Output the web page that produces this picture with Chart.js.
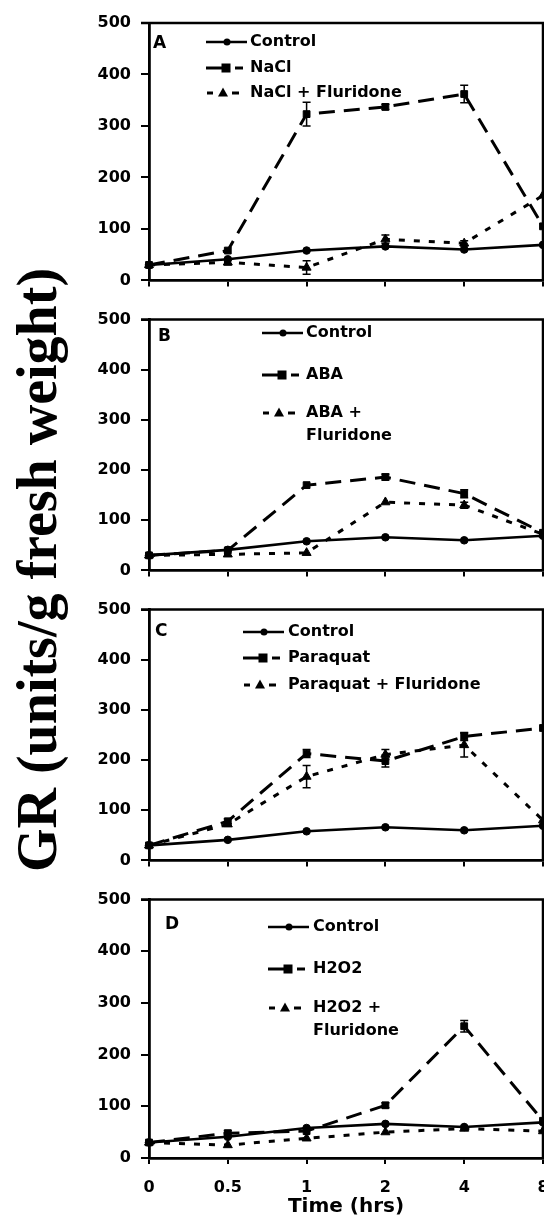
<!DOCTYPE html>
<html>
<head>
<meta charset="utf-8">
<script src="https://cdn.jsdelivr.net/npm/chart.js@4.4.1/dist/chart.umd.min.js"></script>
<style>
html,body{margin:0;padding:0;background:#fff;width:544px;height:1219px;overflow:hidden;position:relative;}
canvas{position:absolute;left:0;}
#ytitle{position:absolute;left:37px;top:570px;width:900px;transform:translate(-50%,-50%) rotate(-90deg);text-align:center;font:bold 56px/56px "Liberation Serif","Times New Roman",serif;white-space:nowrap;color:#000;}
</style>
</head>
<body>
<div id="ytitle">GR (units/g fresh weight)</div>
<canvas id="cA" width="600" height="300" style="top:0px"></canvas>
<canvas id="cB" width="600" height="290" style="top:300px"></canvas>
<canvas id="cC" width="600" height="290" style="top:590px"></canvas>
<canvas id="cD" width="600" height="339" style="top:880px"></canvas>
<script>
// ---- data ----
const timeLabels = ['0', '0.5', '1', '2', '4', '8'];
const yTickStep = 100;
const yMax = 500;

const control = [30, 41, 58, 66, 60, 69];

const nacl = [30, 58, 323, 337, 362, 105];
const naclErr = [0, 0, 23, 5, 17, 0];
const naclFlu = [30, 35, 25, 80, 72, 165];
const naclFluErr = [0, 5, 13, 8, 5, 0];

const aba = [30, 40, 170, 186, 153, 75];
const abaErr = [0, 0, 0, 6, 8, 0];
const abaFlu = [30, 32, 35, 136, 130, 72];
const abaFluErr = [0, 0, 0, 0, 6, 0];

const paraquat = [30, 78, 213, 198, 247, 264];
const paraquatErr = [0, 5, 8, 12, 8, 0];
const paraquatFlu = [30, 72, 167, 211, 230, 80];
const paraquatFluErr = [0, 0, 22, 10, 24, 0];

const h2o2 = [30, 48, 52, 102, 255, 72];
const h2o2Err = [0, 5, 0, 5, 11, 0];
const h2o2Flu = [30, 25, 38, 50, 57, 52];
const h2o2FluErr = [0, 0, 0, 0, 0, 0];

// ---- styles ----
const STY = {
  control: {borderDash: [], pointStyle: 'circle', pointRadius: 3.8, borderWidth: 2.6},
  treat:   {borderDash: [16, 9], pointStyle: 'rect', pointRadius: 4.8, borderWidth: 3},
  flu:     {borderDash: [6, 9], pointStyle: 'triangle', pointRadius: 5.2, borderWidth: 3}
};

function mkDs(label, data, style, err) {
  const s = STY[style];
  return {
    label, data, err,
    borderColor: '#000', backgroundColor: '#000',
    pointBackgroundColor: '#000', pointBorderColor: '#000', pointBorderWidth: 1,
    borderWidth: s.borderWidth, borderDash: s.borderDash,
    pointStyle: s.pointStyle, pointRadius: s.pointRadius,
    fill: false, tension: 0, clip: false
  };
}

const errorBars = {
  id: 'errorBars',
  afterDatasetsDraw(chart) {
    const ctx = chart.ctx, ys = chart.scales.y;
    chart.data.datasets.forEach((ds, i) => {
      if (!ds.err) return;
      const meta = chart.getDatasetMeta(i);
      meta.data.forEach((pt, j) => {
        const e = ds.err[j];
        if (!e) return;
        const v = ds.data[j];
        const yt = ys.getPixelForValue(v + e), yb = ys.getPixelForValue(v - e);
        ctx.save();
        ctx.strokeStyle = '#000'; ctx.lineWidth = 1.5; ctx.setLineDash([]);
        ctx.beginPath();
        ctx.moveTo(pt.x, yt); ctx.lineTo(pt.x, yb);
        ctx.moveTo(pt.x - 4, yt); ctx.lineTo(pt.x + 4, yt);
        ctx.moveTo(pt.x - 4, yb); ctx.lineTo(pt.x + 4, yb);
        ctx.stroke();
        ctx.restore();
      });
    });
  }
};

const frame = {
  id: 'frame',
  afterDraw(chart) {
    const {ctx, chartArea: a} = chart;
    ctx.save();
    ctx.strokeStyle = '#000'; ctx.lineWidth = 2.5; ctx.setLineDash([]);
    ctx.beginPath();
    ctx.moveTo(a.left - 8, a.top); ctx.lineTo(a.right, a.top); ctx.lineTo(a.right, a.bottom);
    ctx.stroke();
    ctx.restore();
  }
};

function drawMarker(ctx, type, x, y) {
  ctx.setLineDash([]);
  ctx.beginPath();
  if (type === 'control') { ctx.arc(x, y, 3.5, 0, Math.PI * 2); ctx.fill(); }
  else if (type === 'treat') { ctx.fillRect(x - 4.5, y - 4.5, 9, 9); }
  else { ctx.moveTo(x, y - 5.5); ctx.lineTo(x - 5, y + 3.5); ctx.lineTo(x + 5, y + 3.5); ctx.closePath(); ctx.fill(); }
}
function seg(ctx, x1, x2, y, w) {
  ctx.lineWidth = w; ctx.beginPath(); ctx.moveTo(x1, y); ctx.lineTo(x2, y); ctx.stroke();
}

const panelLegend = {
  id: 'panelLegend',
  afterDraw(chart, args, o) {
    const ctx = chart.ctx;
    ctx.save();
    ctx.fillStyle = '#000'; ctx.strokeStyle = '#000'; ctx.setLineDash([]);
    ctx.textBaseline = 'middle'; ctx.textAlign = 'left';
    ctx.font = 'bold 17px "DejaVu Sans"';
    ctx.fillText(o.letter, o.letterX, o.letterY - o.top);
    ctx.font = 'bold 16px "DejaVu Sans"';
    o.items.forEach(it => {
      const y = it.y - o.top, x0 = o.x0;
      if (it.type === 'control') {
        seg(ctx, x0, x0 + 41, y, 2.5);
        drawMarker(ctx, 'control', x0 + 21, y);
      } else if (it.type === 'treat') {
        seg(ctx, x0, x0 + 16, y, 3);
        drawMarker(ctx, 'treat', x0 + 20, y);
        seg(ctx, x0 + 29, x0 + 37, y, 3);
      } else {
        seg(ctx, x0 + 1, x0 + 7, y, 3);
        drawMarker(ctx, 'flu', x0 + 17, y);
        seg(ctx, x0 + 26, x0 + 33, y, 3);
      }
      it.text.forEach((t, k) => ctx.fillText(t, o.textX, y + k * 23));
    });
    ctx.restore();
  }
};

const panels = [
  {id: 'cA', top: 0, padTop: 23, xH: 10, showX: false,
   series: [['Control', control, 'control', null], ['NaCl', nacl, 'treat', naclErr], ['NaCl + Fluridone', naclFlu, 'flu', naclFluErr]],
   legend: {letter: 'A', letterX: 153, letterY: 44, x0: 206, textX: 250,
     items: [{type: 'control', y: 42, text: ['Control']}, {type: 'treat', y: 68, text: ['NaCl']}, {type: 'flu', y: 93, text: ['NaCl + Fluridone']}]}},
  {id: 'cB', top: 300, padTop: 12, xH: 13, showX: false,
   series: [['Control', control, 'control', null], ['ABA', aba, 'treat', abaErr], ['ABA + Fluridone', abaFlu, 'flu', abaFluErr]],
   legend: {letter: 'B', letterX: 158, letterY: 337, x0: 262, textX: 306,
     items: [{type: 'control', y: 333, text: ['Control']}, {type: 'treat', y: 375, text: ['ABA']}, {type: 'flu', y: 413, text: ['ABA +', 'Fluridone']}]}},
  {id: 'cC', top: 590, padTop: 15, xH: 10, showX: false,
   series: [['Control', control, 'control', null], ['Paraquat', paraquat, 'treat', paraquatErr], ['Paraquat + Fluridone', paraquatFlu, 'flu', paraquatFluErr]],
   legend: {letter: 'C', letterX: 155, letterY: 632, x0: 243, textX: 288,
     items: [{type: 'control', y: 632, text: ['Control']}, {type: 'treat', y: 658, text: ['Paraquat']}, {type: 'flu', y: 685, text: ['Paraquat + Fluridone']}]}},
  {id: 'cD', top: 880, padTop: 17, xH: 61, showX: true,
   series: [['Control', control, 'control', null], ['H2O2', h2o2, 'treat', h2o2Err], ['H2O2 + Fluridone', h2o2Flu, 'flu', h2o2FluErr]],
   legend: {letter: 'D', letterX: 165, letterY: 925, x0: 268, textX: 313,
     items: [{type: 'control', y: 927, text: ['Control']}, {type: 'treat', y: 969, text: ['H2O2']}, {type: 'flu', y: 1008, text: ['H2O2 +', 'Fluridone']}]}}
];

Chart.defaults.font.family = '"DejaVu Sans"';
Chart.defaults.color = '#000';

panels.forEach(p => {
  const datasets = p.series.map(s => mkDs(s[0], s[1], s[2], s[3]));
  new Chart(document.getElementById(p.id), {
    type: 'line',
    data: {labels: timeLabels, datasets},
    options: {
      responsive: false, animation: false, events: [],
      layout: {padding: {left: 0, right: 57, top: p.padTop, bottom: 0}},
      plugins: {
        legend: {display: false}, tooltip: {enabled: false},
        panelLegend: Object.assign({top: p.top}, p.legend)
      },
      scales: {
        x: {
          type: 'category', offset: false,
          grid: {drawOnChartArea: false, drawTicks: true, tickLength: 6, color: '#000', lineWidth: 2},
          border: {display: true, color: '#000', width: 2.8},
          ticks: {display: p.showX, color: '#000', padding: 14, maxRotation: 0, font: {size: 16, weight: 'bold', family: '"DejaVu Sans"'}},
          title: {display: p.showX, text: 'Time (hrs)', color: '#000', padding: {top: 0, bottom: 0}, font: {size: 20, weight: 'bold', family: '"DejaVu Sans"'}},
          afterFit(s) { s.height = p.xH; }
        },
        y: {
          min: 0, max: yMax,
          grid: {drawOnChartArea: false, drawTicks: true, tickLength: 8, color: '#000', lineWidth: 2},
          border: {display: true, color: '#000', width: 2.8},
          ticks: {stepSize: yTickStep, color: '#000', padding: 10, font: {size: 16, weight: 'bold', family: '"DejaVu Sans"'}},
          afterFit(s) { s.width = 149; }
        }
      }
    },
    plugins: [errorBars, frame, panelLegend]
  });
});
</script>
</body>
</html>
